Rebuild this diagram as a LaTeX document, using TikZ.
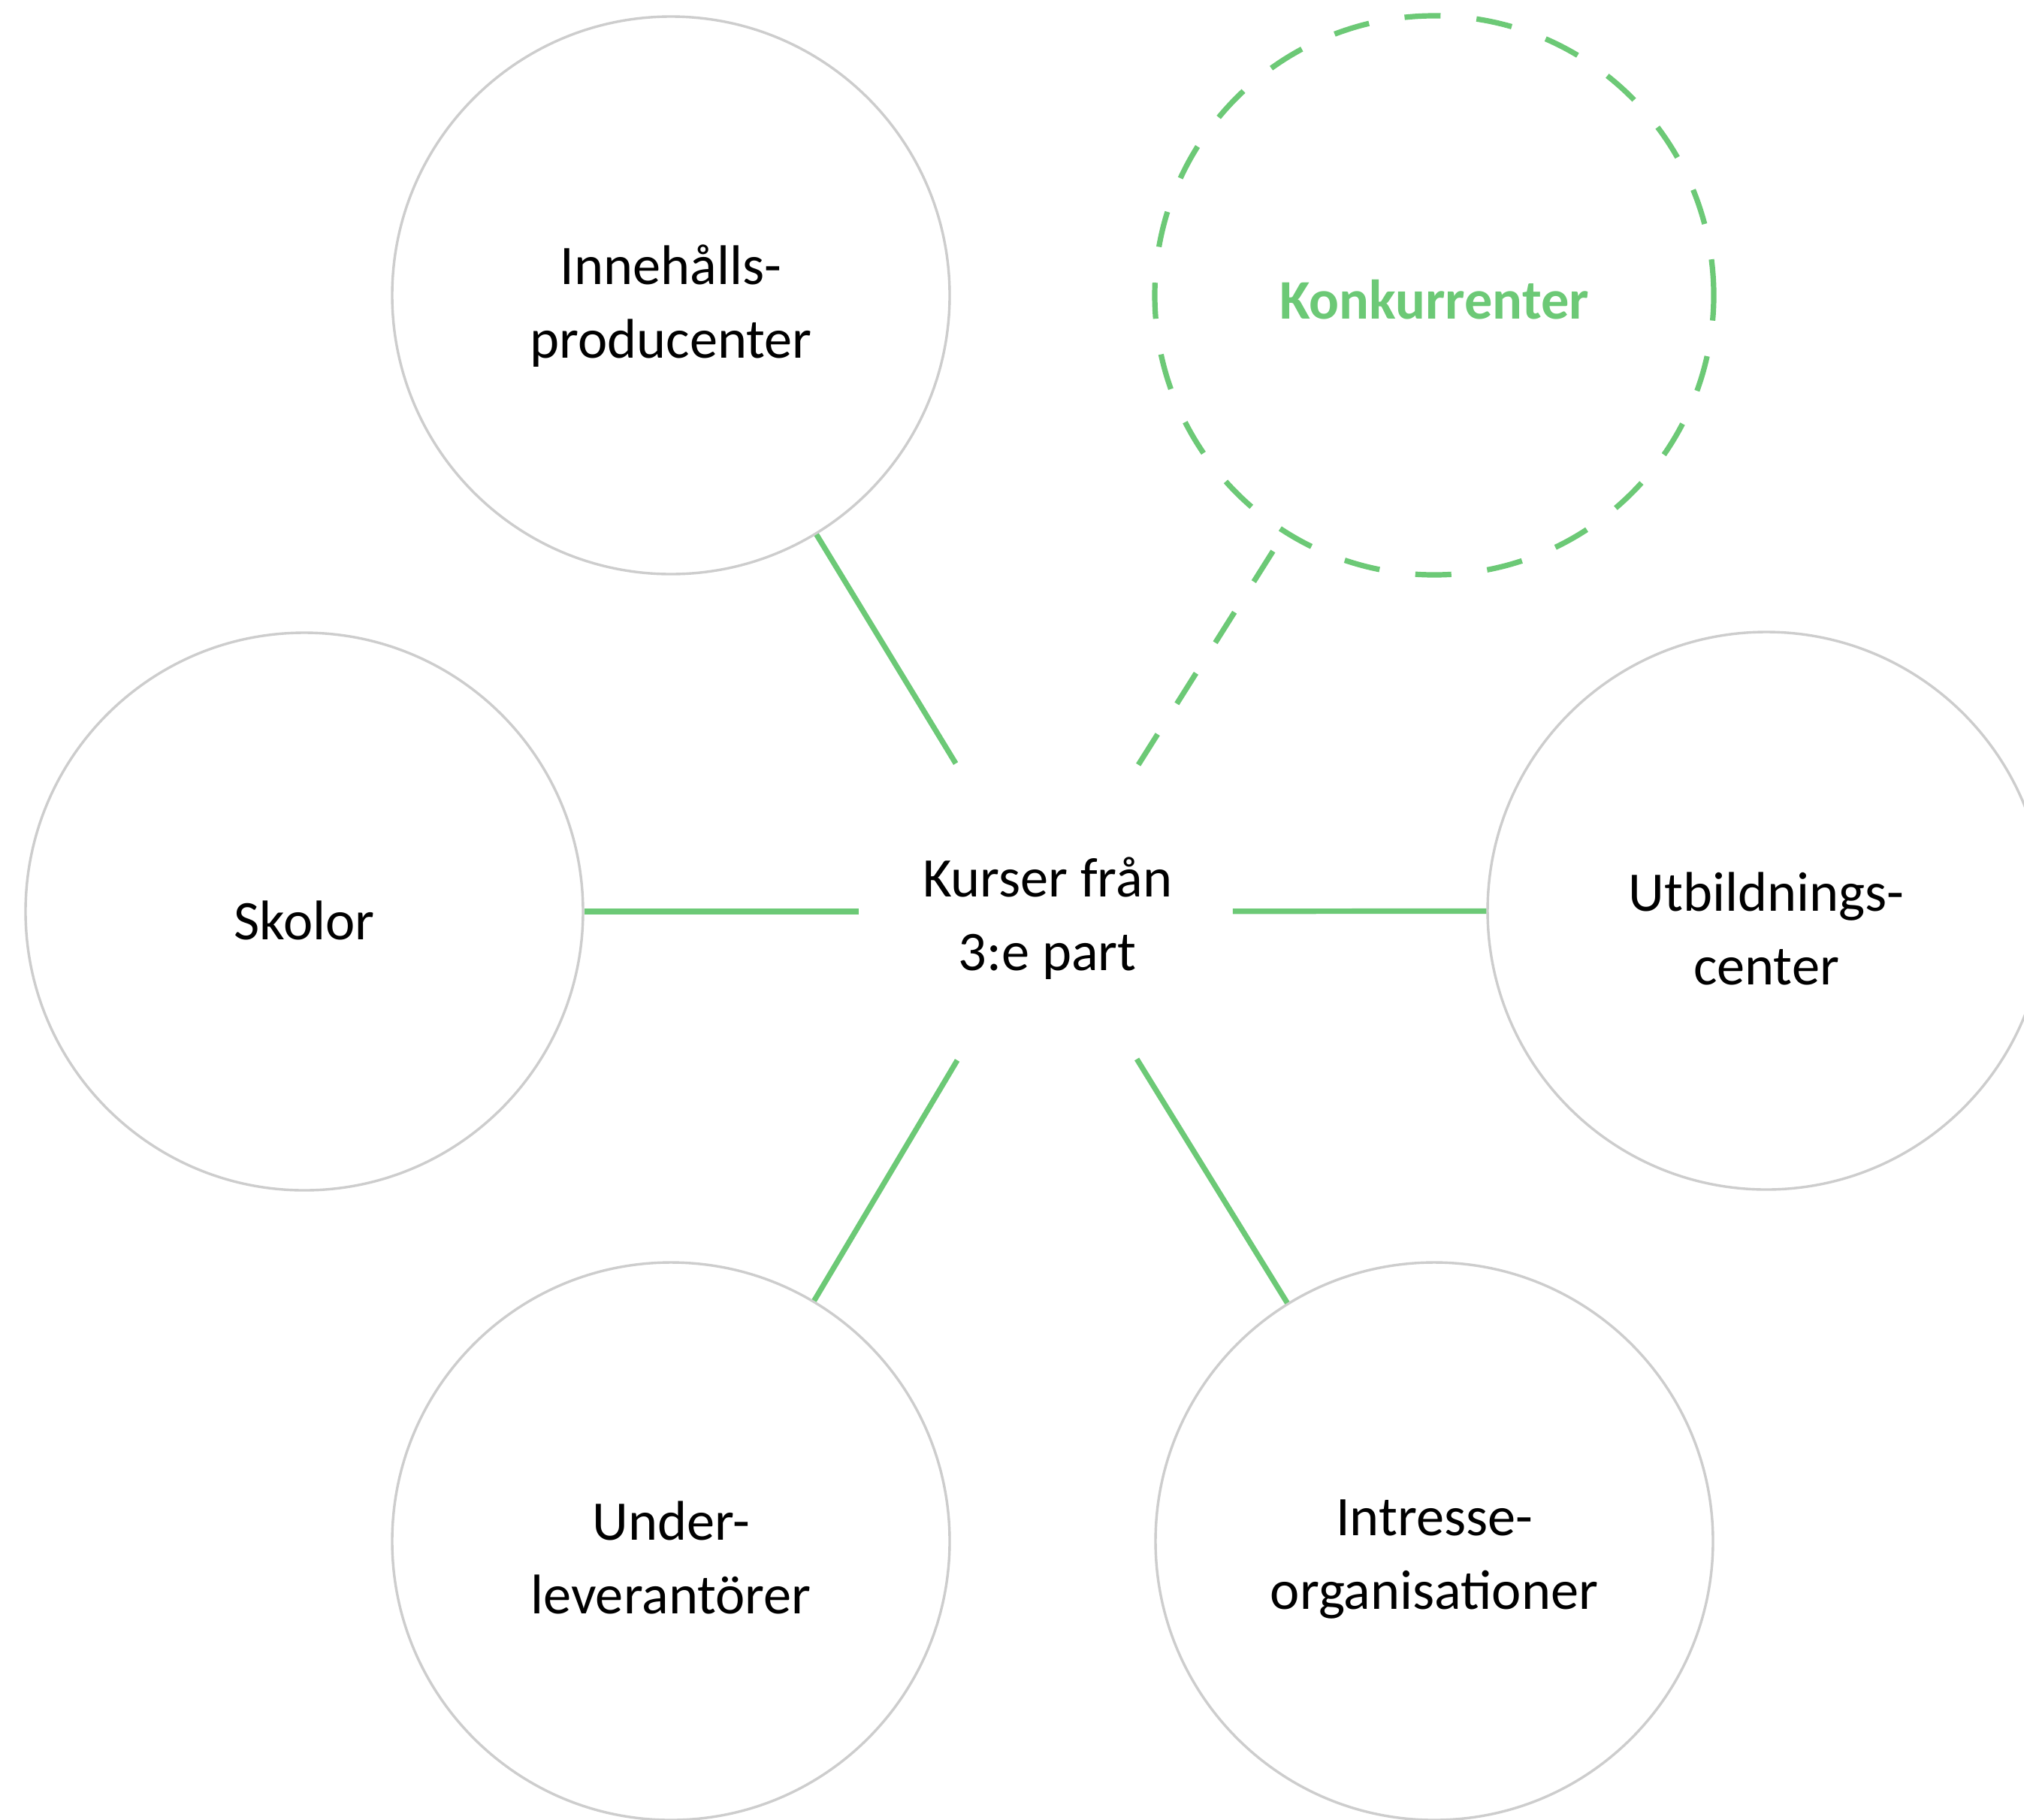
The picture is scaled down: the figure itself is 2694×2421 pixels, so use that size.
\documentclass[tikz,border=0pt]{standalone}
\usepackage{fontspec}
\setmainfont{Carlito}
\usetikzlibrary{shapes.geometric}
\definecolor{grn}{RGB}{108,201,118}
\definecolor{gry}{RGB}{205,205,205}
\begin{document}
\begin{tikzpicture}[x=0.25pt,y=-0.25pt,
  every node/.style={font=\fontsize{18.6}{24.5}\selectfont, align=center, inner sep=0pt},
  bubble/.style={circle, draw=gry, line width=0.85pt, minimum size=185.5pt, fill=white},
  rival/.style={circle, draw=grn, line width=1.8pt, dash pattern=on 12pt off 12pt, minimum size=186pt},
  rivaltext/.style={text=grn, font=\fontsize{18.6}{24.5}\selectfont\bfseries},
  hub/.style={ellipse, minimum width=124pt, minimum height=112pt},
  link/.style={draw=grn, line width=1.8pt},
  dlink/.style={link, dash pattern=on 12pt off 12pt}]
\useasboundingbox (0,0) rectangle (2694,2421);
\node[hub, label={[yshift=-2.2pt, xshift=0.5pt]center:{Kurser från\\3:e part}}] (ctr) at (1392,1213) {};
\node[bubble, label={[yshift=-3.5pt]center:{Innehålls-\\producenter}}] (inn) at (893,393) {};
\node[rival, label={[rivaltext, yshift=-1.3pt]center:{Konkurrenter}}] (konk) at (1909,393) {};
\node[bubble, label={[yshift=-3pt]center:{Skolor}}] (skol) at (405,1213) {};
\node[bubble, label={[yshift=-6pt]center:{Utbildnings-\\center}}] (utb) at (2351,1212) {};
\node[bubble, label={[yshift=-5.5pt]center:{Under-\\leverantörer}}] (und) at (893,2051) {};
\node[bubble, label={[yshift=-6pt]center:{Intresse-\\organisationer}}] (intr) at (1909,2051) {};
\draw[link] (ctr) -- (inn);
\draw[dlink] (ctr) -- (konk);
\draw[link] (ctr) -- (skol);
\draw[link] (ctr) -- (utb);
\draw[link] (ctr) -- (und);
\draw[link] (ctr) -- (intr);
\end{tikzpicture}
\end{document}
